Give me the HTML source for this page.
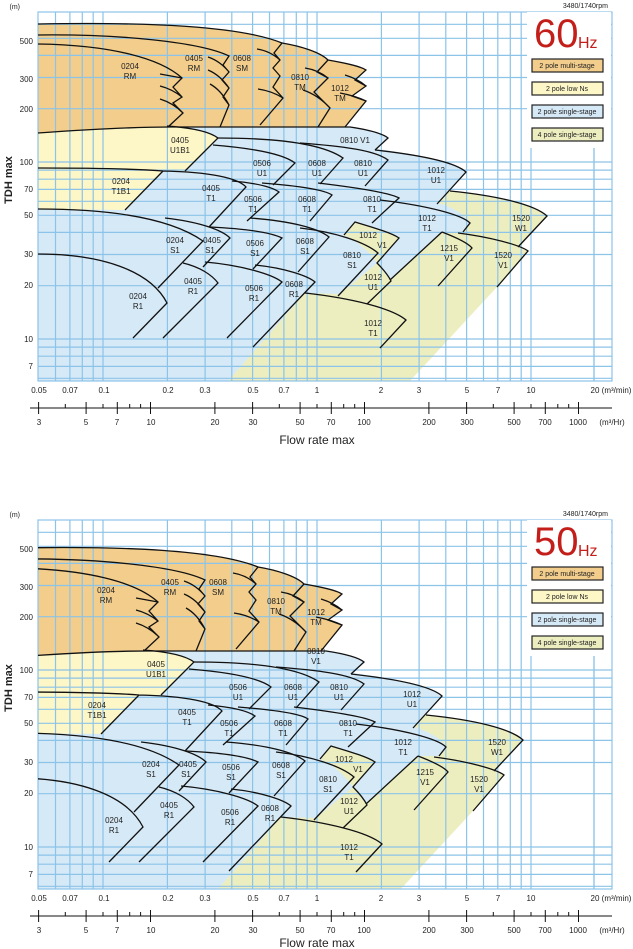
<!DOCTYPE html>
<html><head><meta charset="utf-8"><style>
html,body{margin:0;padding:0;background:#fff;}
svg{display:block;}
text{font-family:"Liberation Sans",sans-serif;fill:#222;}
.lb{font-size:8px;text-anchor:middle;}
.ax{font-size:8px;}
.g{stroke:#8cc3e8;stroke-width:1.2;fill:none;}
.k{stroke:#111;stroke-width:1.3;fill:none;}
</style></head><body>
<svg width="633" height="949" viewBox="0 0 633 949" xmlns="http://www.w3.org/2000/svg">
<defs>
<clipPath id="cp" clipPathUnits="userSpaceOnUse"><rect x="38" y="12" width="574" height="369"/></clipPath>
<g id="fills">
<path fill="#edeec0" d="M228,381 L330,260 L420,205 L450,191 C500,196 535,205 547,216 L518,247 L528,251 L497,287 L410,381 Z"/>
<path fill="#d6e9f6" d="M38,200 L38,381 L228,381 L305,293 L340,294 L377,263 L390,280 L442,232 L463,232 L470,223 C468,217 455,208 438,203 L466,172 C455,162 420,155 378,149 L388,138 C383,134 370,130 350,127 L165,127 Z"/>
<path fill="#edeec0" d="M344,235 L355,222 C375,228 392,233 399,238 L377,263 C368,250 356,240 344,235 Z"/>
<path fill="#fdf6c6" d="M38,133 C80,130 130,127 167,126 C195,128 210,132 218,138 L185,171 L163,171 L125,210 L38,209 Z"/>
<path fill="#f2cd8b" d="M38,24 C150,22 240,26 282,43 C300,46 320,52 328,60 C345,63 360,66 366,70 L355,80 L366,86 L352,96 L366,101 L345,127 L180,127 C120,128 70,130 38,133 Z"/>
</g>
<g id="grid">
<rect x="38" y="12" width="574" height="369" class="g"/>
<path class="g" d="M55.5,12V381M69.9,12V381M82.3,12V381M93.2,12V381M103,12V381M167.4,12V381M205.1,12V381M231.8,12V381M252.6,12V381M269.5,12V381M283.9,12V381M296.3,12V381M307.2,12V381M317,12V381M381.4,12V381M419.1,12V381M445.8,12V381M466.6,12V381M483.5,12V381M497.8,12V381M510.3,12V381M521.2,12V381M531,12V381M594,12V381"/>
<path class="g" d="M38,378.3H612M38,366.4H612M38,356.2H612M38,347.1H612M38,339H612M38,285.7H612M38,254.5H612M38,232.4H612M38,215.3H612M38,201.3H612M38,189.4H612M38,179.2H612M38,170.1H612M38,162H612M38,108.7H612M38,77.5H612M38,55.4H612M38,38.3H612M38,24.3H612"/>
</g>
<g id="lines" class="k">
<path d="M38,44 C110,45 160,58 182,78 L173,87 L182,97 L173,103 L183,113 L168,127 M160,74 L182,78 M160,86 Q172,89 182,97 M160,99 Q173,103 183,113"/>
<path d="M38,35 C120,34 200,42 229,56 L223,65 L229,72 L222,80 L229,88 L223,97 L229,105 L220,127 M208,57 Q220,61 229,72 M208,70 Q220,75 229,88 M210,84 Q221,90 229,105"/>
<path d="M38,24 C150,22 240,26 282,43 L274,53 L280,60 L273,68 L280,76 L273,87 L283,98 L260,125 M257,49 Q270,51 280,60 M258,89 Q272,91 283,98"/>
<path d="M282,43 C300,46 320,52 328,60 L317,72 L328,78 L314,92 L330,108 L318,127 M305,68 Q318,70 328,78 M303,90 Q318,95 330,108"/>
<path d="M328,60 C345,63 360,66 366,70 L355,80 L366,86 L352,96 L366,101 L345,127 M345,75 Q358,79 366,86 M340,93 Q356,96 366,101"/>
<path d="M38,133 C80,130 130,127 170,127 L350,127 C370,130 383,134 388,138 L375,150"/>
<path d="M167,126 C195,128 210,132 218,138 L185,171"/>
<path d="M218,138 C270,138 320,142 343,158 L320,184"/>
<path d="M213,145 C250,148 282,153 295,163 L273,185"/>
<path d="M300,143 C340,146 375,150 388,160 L365,186"/>
<path d="M375,150 C420,155 455,162 466,172 L437,204"/>
<path d="M38,168 C110,168 150,170 163,171 C210,172 238,178 246,187 L209,227 M163,171 L125,210"/>
<path d="M232,181 C255,183 272,187 279,192 L247,221"/>
<path d="M262,183 C300,186 325,190 332,195 L310,221"/>
<path d="M318,183 C360,188 390,193 399,198 L372,223"/>
<path d="M380,200 C430,206 462,215 470,223 L463,232 M442,232 L390,280"/>
<path d="M38,209 C110,209 170,218 203,241 L158,288"/>
<path d="M165,218 C200,222 222,230 230,238 L203,267"/>
<path d="M210,227 C250,229 272,233 282,238 L253,269"/>
<path d="M250,218 C290,221 318,228 329,237 L298,272"/>
<path d="M300,228 C335,232 365,242 378,253 L338,296"/>
<path d="M344,235 L355,222 C375,228 392,233 399,238 L377,263 C382,268 388,275 391,281 L367,304"/>
<path d="M38,254 C100,254 150,270 167,303 L133,338"/>
<path d="M183,263 C200,267 212,275 218,283 L163,338"/>
<path d="M205,262 C240,265 272,274 282,282 L227,338"/>
<path d="M255,265 C285,268 308,276 315,282 L253,347"/>
<path d="M305,293 C350,298 392,308 406,320 L380,348"/>
<path d="M442,232 C455,237 468,243 472,248 L438,286"/>
<path d="M458,233 C490,237 520,245 528,251 L497,287"/>
<path d="M450,191 C500,196 535,205 547,216 L518,247"/>
</g>
<g id="xaxis">
<path d="M30,408 H612" stroke="#111" stroke-width="1"/>
<path stroke="#111" stroke-width="1" d="M38.6,402V414M65.3,404V408M86.1,402V414M103,404V408M117.3,402V414M129.7,404V408M140.6,404V408M150.5,402V414M214.9,402V414M252.6,402V414M279.3,404V408M300.1,402V414M317,404V408M331.3,402V414M343.7,404V408M354.7,404V408M364.5,402V414M428.9,402V414M466.6,402V414M493.3,404V408M514.1,402V414M531,404V408M545.3,402V414M557.8,404V408M568.7,404V408M578.5,402V414"/>
</g>
</defs>

<!-- ===== 60 Hz ===== -->
<use href="#fills"/>
<use href="#grid"/>
<rect x="527" y="12" width="84" height="136" fill="#fff"/>
<path class="g" d="M594,148V381"/>
<use href="#lines"/>
<g class="lb">
<text x="130" y="69">0204</text><text x="130" y="79">RM</text>
<text x="194" y="61">0405</text><text x="194" y="71">RM</text>
<text x="242" y="61">0608</text><text x="242" y="71">SM</text>
<text x="300" y="80">0810</text><text x="300" y="90">TM</text>
<text x="340" y="91">1012</text><text x="340" y="101">TM</text>
<text x="180" y="143">0405</text><text x="180" y="153">U1B1</text>
<text x="355" y="143">0810 V1</text>
<text x="262" y="166">0506</text><text x="262" y="176">U1</text>
<text x="317" y="166">0608</text><text x="317" y="176">U1</text>
<text x="363" y="166">0810</text><text x="363" y="176">U1</text>
<text x="436" y="173">1012</text><text x="436" y="183">U1</text>
<text x="121" y="184">0204</text><text x="121" y="194">T1B1</text>
<text x="211" y="191">0405</text><text x="211" y="201">T1</text>
<text x="253" y="202">0506</text><text x="253" y="212">T1</text>
<text x="307" y="202">0608</text><text x="307" y="212">T1</text>
<text x="372" y="202">0810</text><text x="372" y="212">T1</text>
<text x="427" y="221">1012</text><text x="427" y="231">T1</text>
<text x="521" y="221">1520</text><text x="521" y="231">W1</text>
<text x="175" y="243">0204</text><text x="175" y="253">S1</text>
<text x="212" y="243">0405</text><text x="210" y="253">S1</text>
<text x="255" y="246">0506</text><text x="255" y="256">S1</text>
<text x="305" y="244">0608</text><text x="305" y="254">S1</text>
<text x="368" y="238">1012</text><text x="382" y="248">V1</text>
<text x="352" y="258">0810</text><text x="352" y="268">S1</text>
<text x="449" y="251">1215</text><text x="449" y="261">V1</text>
<text x="503" y="258">1520</text><text x="503" y="268">V1</text>
<text x="138" y="299">0204</text><text x="138" y="309">R1</text>
<text x="193" y="284">0405</text><text x="193" y="294">R1</text>
<text x="254" y="291">0506</text><text x="254" y="301">R1</text>
<text x="294" y="287">0608</text><text x="294" y="297">R1</text>
<text x="373" y="280">1012</text><text x="373" y="290">U1</text>
<text x="373" y="326">1012</text><text x="373" y="336">T1</text>
</g>
<g class="ax" text-anchor="end">
<text x="20" y="9" style="font-size:7px">(m)</text>
<text x="33" y="44">500</text><text x="33" y="82">300</text><text x="33" y="112">200</text>
<text x="33" y="165">100</text><text x="33" y="192">70</text><text x="33" y="218">50</text>
<text x="33" y="257">30</text><text x="33" y="288">20</text><text x="33" y="342">10</text><text x="33" y="369">7</text>
</g>
<text transform="translate(12,180) rotate(-90)" text-anchor="middle" style="font-size:11px;font-weight:bold">TDH max</text>
<g class="ax" text-anchor="middle">
<text x="39" y="393">0.05</text><text x="70" y="393">0.07</text><text x="104" y="393">0.1</text>
<text x="168" y="393">0.2</text><text x="205" y="393">0.3</text><text x="253" y="393">0.5</text>
<text x="284" y="393">0.7</text><text x="317" y="393">1</text><text x="381" y="393">2</text>
<text x="419" y="393">3</text><text x="467" y="393">5</text><text x="498" y="393">7</text>
<text x="531" y="393">10</text><text x="611" y="393">20 (m³/min)</text>
</g>
<use href="#xaxis"/>
<g class="ax" text-anchor="middle">
<text x="39" y="425">3</text><text x="86" y="425">5</text><text x="117" y="425">7</text>
<text x="151" y="425">10</text><text x="215" y="425">20</text><text x="253" y="425">30</text>
<text x="300" y="425">50</text><text x="331" y="425">70</text><text x="364" y="425">100</text>
<text x="429" y="425">200</text><text x="467" y="425">300</text><text x="514" y="425">500</text>
<text x="545" y="425">700</text><text x="578" y="425">1000</text><text x="612" y="425">(m³/Hr)</text>
</g>
<text x="317" y="444" text-anchor="middle" style="font-size:12px">Flow rate max</text>
<text x="608" y="8" text-anchor="end" style="font-size:7px">3480/1740rpm</text>
<text x="534" y="47" style="font-size:40px;fill:#c41e1a">60</text>
<text x="578" y="48" style="font-size:16px;fill:#c41e1a">Hz</text>
<rect x="532" y="59" width="71" height="13" fill="#f2cd8b" stroke="#222" stroke-width="1.2"/>
<rect x="532" y="82" width="71" height="13" fill="#fdf6c6" stroke="#222" stroke-width="1.2"/>
<rect x="532" y="105" width="71" height="13" fill="#d6e9f6" stroke="#222" stroke-width="1.2"/>
<rect x="532" y="128" width="71" height="13" fill="#edeec0" stroke="#222" stroke-width="1.2"/>
<g style="font-size:7px" text-anchor="middle">
<text x="567" y="68">2 pole multi-stage</text><text x="567" y="91">2 pole low Ns</text>
<text x="567" y="114">2 pole single-stage</text><text x="567" y="137">4 pole single-stage</text>
</g>

<!-- ===== 50 Hz ===== -->
<g transform="translate(0,508)">
<g clip-path="url(#cp)"><g transform="translate(-24,16)"><use href="#fills"/></g></g>
<use href="#grid"/>
<rect x="527" y="12" width="84" height="136" fill="#fff"/>
<path class="g" d="M594,148V381"/>
<g clip-path="url(#cp)"><g transform="translate(-24,16)"><use href="#lines"/>
<g class="lb">
<text x="130" y="69">0204</text><text x="130" y="79">RM</text>
<text x="194" y="61">0405</text><text x="194" y="71">RM</text>
<text x="242" y="61">0608</text><text x="242" y="71">SM</text>
<text x="300" y="80">0810</text><text x="300" y="90">TM</text>
<text x="340" y="91">1012</text><text x="340" y="101">TM</text>
<text x="180" y="143">0405</text><text x="180" y="153">U1B1</text>
<text x="340" y="130">0810</text><text x="340" y="140">V1</text>
<text x="262" y="166">0506</text><text x="262" y="176">U1</text>
<text x="317" y="166">0608</text><text x="317" y="176">U1</text>
<text x="363" y="166">0810</text><text x="363" y="176">U1</text>
<text x="436" y="173">1012</text><text x="436" y="183">U1</text>
<text x="121" y="184">0204</text><text x="121" y="194">T1B1</text>
<text x="211" y="191">0405</text><text x="211" y="201">T1</text>
<text x="253" y="202">0506</text><text x="253" y="212">T1</text>
<text x="307" y="202">0608</text><text x="307" y="212">T1</text>
<text x="372" y="202">0810</text><text x="372" y="212">T1</text>
<text x="427" y="221">1012</text><text x="427" y="231">T1</text>
<text x="521" y="221">1520</text><text x="521" y="231">W1</text>
<text x="175" y="243">0204</text><text x="175" y="253">S1</text>
<text x="212" y="243">0405</text><text x="210" y="253">S1</text>
<text x="255" y="246">0506</text><text x="255" y="256">S1</text>
<text x="305" y="244">0608</text><text x="305" y="254">S1</text>
<text x="368" y="238">1012</text><text x="382" y="248">V1</text>
<text x="352" y="258">0810</text><text x="352" y="268">S1</text>
<text x="449" y="251">1215</text><text x="449" y="261">V1</text>
<text x="503" y="258">1520</text><text x="503" y="268">V1</text>
<text x="138" y="299">0204</text><text x="138" y="309">R1</text>
<text x="193" y="284">0405</text><text x="193" y="294">R1</text>
<text x="254" y="291">0506</text><text x="254" y="301">R1</text>
<text x="294" y="287">0608</text><text x="294" y="297">R1</text>
<text x="373" y="280">1012</text><text x="373" y="290">U1</text>
<text x="373" y="326">1012</text><text x="373" y="336">T1</text>
</g></g></g>
<g class="ax" text-anchor="end">
<text x="20" y="9" style="font-size:7px">(m)</text>
<text x="33" y="44">500</text><text x="33" y="82">300</text><text x="33" y="112">200</text>
<text x="33" y="165">100</text><text x="33" y="192">70</text><text x="33" y="218">50</text>
<text x="33" y="257">30</text><text x="33" y="288">20</text><text x="33" y="342">10</text><text x="33" y="369">7</text>
</g>
<text transform="translate(12,180) rotate(-90)" text-anchor="middle" style="font-size:11px;font-weight:bold">TDH max</text>
<g class="ax" text-anchor="middle">
<text x="39" y="393">0.05</text><text x="70" y="393">0.07</text><text x="104" y="393">0.1</text>
<text x="168" y="393">0.2</text><text x="205" y="393">0.3</text><text x="253" y="393">0.5</text>
<text x="284" y="393">0.7</text><text x="317" y="393">1</text><text x="381" y="393">2</text>
<text x="419" y="393">3</text><text x="467" y="393">5</text><text x="498" y="393">7</text>
<text x="531" y="393">10</text><text x="611" y="393">20 (m³/min)</text>
</g>
<use href="#xaxis"/>
<g class="ax" text-anchor="middle">
<text x="39" y="425">3</text><text x="86" y="425">5</text><text x="117" y="425">7</text>
<text x="151" y="425">10</text><text x="215" y="425">20</text><text x="253" y="425">30</text>
<text x="300" y="425">50</text><text x="331" y="425">70</text><text x="364" y="425">100</text>
<text x="429" y="425">200</text><text x="467" y="425">300</text><text x="514" y="425">500</text>
<text x="545" y="425">700</text><text x="578" y="425">1000</text><text x="612" y="425">(m³/Hr)</text>
</g>
<text x="317" y="439" text-anchor="middle" style="font-size:12px">Flow rate max</text>
<text x="608" y="8" text-anchor="end" style="font-size:7px">3480/1740rpm</text>
<text x="534" y="47" style="font-size:40px;fill:#c41e1a">50</text>
<text x="578" y="48" style="font-size:16px;fill:#c41e1a">Hz</text>
<rect x="532" y="59" width="71" height="13" fill="#f2cd8b" stroke="#222" stroke-width="1.2"/>
<rect x="532" y="82" width="71" height="13" fill="#fdf6c6" stroke="#222" stroke-width="1.2"/>
<rect x="532" y="105" width="71" height="13" fill="#d6e9f6" stroke="#222" stroke-width="1.2"/>
<rect x="532" y="128" width="71" height="13" fill="#edeec0" stroke="#222" stroke-width="1.2"/>
<g style="font-size:7px" text-anchor="middle">
<text x="567" y="68">2 pole multi-stage</text><text x="567" y="91">2 pole low Ns</text>
<text x="567" y="114">2 pole single-stage</text><text x="567" y="137">4 pole single-stage</text>
</g>
</g>
</svg>
</body></html>
